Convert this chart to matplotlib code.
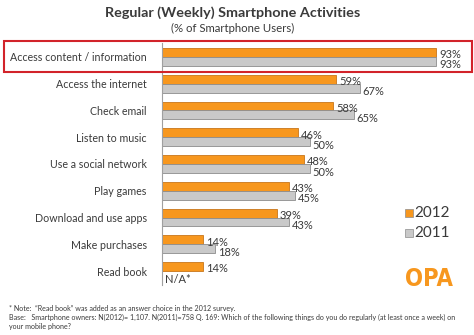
import numpy as np
import matplotlib.pyplot as plt
from matplotlib.patches import Rectangle

plt.rcParams['font.family'] = ['Lato', 'DejaVu Sans']

# data
categories = ['Access content / information', 'Access the internet', 'Check email',
              'Listen to music', 'Use a social network', 'Play games',
              'Download and use apps', 'Make purchases', 'Read book']
vals_2012 = [93, 59, 58, 46, 48, 43, 39, 14, 14]
vals_2011 = [93, 67, 65, 50, 50, 45, 43, 18, None]  # read book not asked in 2011

orange = '#F7971E'
gray = '#C9C9C9'
txt = '#3A3A3A'

fig = plt.figure(figsize=(4.74, 3.35), dpi=100)
W, H = 474, 335
ax = fig.add_axes([162 / W, (H - 285) / H, 295 / W, 242 / H])

y = np.arange(len(categories))
h = 0.33
for i in range(len(categories)):
    ax.barh(y[i] - h / 2, vals_2012[i], height=h, color=orange, edgecolor='#C8761A', linewidth=0.6)
    if vals_2011[i] is not None:
        ax.barh(y[i] + h / 2, vals_2011[i], height=h, color=gray, edgecolor='#8C8C8C', linewidth=0.6)

# value labels
for i in range(len(categories)):
    ax.text(vals_2012[i] + 1.0, y[i] - 0.08, f'{vals_2012[i]}%', fontsize=8, color=txt,
            va='center', ha='left')
    if vals_2011[i] is not None:
        ax.text(vals_2011[i] + 1.0, y[i] + 0.3, f'{vals_2011[i]}%', fontsize=8, color=txt,
                va='center', ha='left')
    else:
        ax.text(1.0, y[i] + 0.3, 'N/A*', fontsize=8, color=txt, va='center', ha='left')

ax.set_xlim(0, 100)
ax.set_ylim(len(categories) - 0.48, -0.52)
ax.set_yticks(y)
ax.set_yticklabels(categories, fontsize=7.7, color=txt)
ax.tick_params(axis='y', length=0, pad=11)
ax.set_xticks([])
for s in ['top', 'right', 'bottom']:
    ax.spines[s].set_visible(False)
ax.spines['left'].set_color('#A0A0A0')
ax.spines['left'].set_linewidth(0.8)

# titles
fig.text(233 / W, 1 - 13 / H, 'Regular (Weekly) Smartphone Activities', fontsize=10.4,
         fontweight='bold', color=txt, ha='center', va='center')
fig.text(233 / W, 1 - 28 / H, '(% of Smartphone Users)', fontsize=8.2, color=txt,
         ha='center', va='center')

# highlight box around first row
fig.patches.append(Rectangle((4 / W, 1 - 72 / H), 468 / W, 31 / H, transform=fig.transFigure,
                             fill=False, edgecolor='#D2232A', linewidth=1.5))

# legend
fig.patches.append(Rectangle((405 / W, 1 - 217 / H), 8 / W, 8 / H, transform=fig.transFigure,
                             facecolor=orange, edgecolor='#8C8C8C', linewidth=0.5))
fig.text(414 / W, 1 - 213 / H, '2012', fontsize=11, color=txt, va='center', ha='left')
fig.patches.append(Rectangle((405 / W, 1 - 237 / H), 8 / W, 8 / H, transform=fig.transFigure,
                             facecolor=gray, edgecolor='#8C8C8C', linewidth=0.5))
fig.text(414 / W, 1 - 233 / H, '2011', fontsize=11, color=txt, va='center', ha='left')

# logo
fig.text(429 / W, 1 - 279 / H, 'OPA', fontsize=17, fontweight='bold', color=orange,
         ha='center', va='center', stretch='condensed',
         family=['DejaVu Sans Condensed', 'Liberation Sans Narrow', 'DejaVu Sans'])

# footnotes
fig.text(9 / W, 1 - 308 / H, '* Note:  \u201cRead book\u201d was added as an answer choice in the 2012 survey.',
         fontsize=5.15, color=txt, ha='left', va='center')
fig.text(9 / W, 1 - 317 / H, 'Base:   Smartphone owners: N(2012)= 1,107. N(2011)=758 Q. 169: Which of the following '
         'things do you do regularly (at least once a week) on', fontsize=5.15, color=txt, ha='left', va='center')
fig.text(9 / W, 1 - 326 / H, 'your mobile phone?', fontsize=5.15, color=txt, ha='left', va='center')

fig.savefig('out.png', dpi=100)
